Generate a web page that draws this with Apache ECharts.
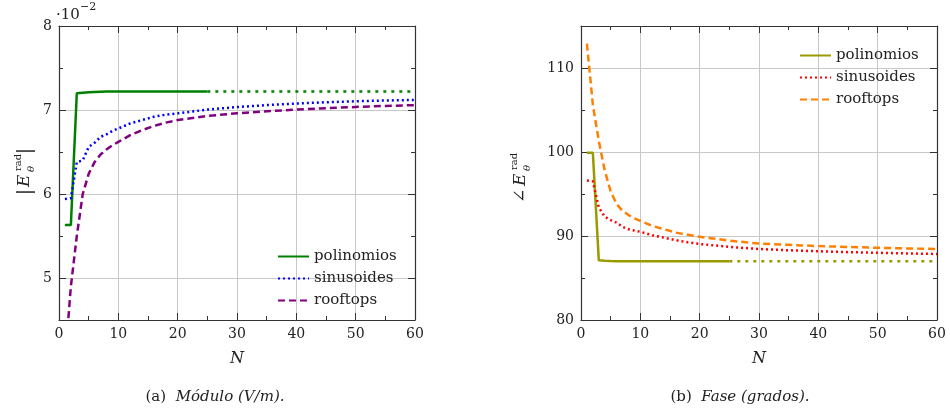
<!DOCTYPE html>
<html>
<head>
<meta charset="utf-8">
<script src="https://cdn.jsdelivr.net/npm/echarts@6/dist/echarts.min.js"></script>
<style>
    html, body { margin: 0; padding: 0; background: #fff; }
    #chart { width: 950px; height: 411px; }
</style>
</head>
<body>
<div id="chart"></div>
<script>
// N values
var nPoly = [1, 2, 3, 4, 5, 6, 8, 10, 15, 20, 25];
var nPolyExt = [25, 60];
var nCurve = [1, 2, 3, 4, 5, 6, 7, 8, 9, 10, 12, 14, 16, 18, 20, 25, 30, 35, 40, 45, 50, 55, 60];

// (a) module, units of 1e-2 V/m
var polyMod = [5.63, 5.63, 7.20, 7.205, 7.21, 7.215, 7.22, 7.22, 7.22, 7.22, 7.22];
var polyModExt = [7.22, 7.22];
var sinMod = [5.94, 5.95, 6.38, 6.40, 6.56, 6.61, 6.68, 6.71, 6.75, 6.78, 6.84, 6.88, 6.92, 6.945, 6.96, 7.005, 7.035, 7.058, 7.077, 7.092, 7.104, 7.113, 7.12];
var roofMod = [4.0, 4.9, 5.5, 6.0, 6.24, 6.38, 6.47, 6.53, 6.58, 6.62, 6.70, 6.76, 6.81, 6.85, 6.88, 6.93, 6.96, 6.985, 7.005, 7.022, 7.036, 7.048, 7.058];

// (b) phase, degrees
var polyPh = [99.9, 99.9, 87.1, 87.05, 87.02, 87.0, 87.0, 87.0, 87.0, 87.0, 87.0];
var polyPhExt = [87.0, 87.0];
var sinPh = [96.6, 96.5, 93.4, 92.3, 91.9, 91.6, 91.1, 90.8, 90.65, 90.5, 90.1, 89.8, 89.5, 89.25, 89.05, 88.7, 88.45, 88.3, 88.18, 88.08, 88.0, 87.92, 87.86];
var roofPh = [112.9, 105.6, 101.3, 97.8, 95.3, 93.8, 93.0, 92.5, 92.1, 91.8, 91.2, 90.8, 90.4, 90.15, 89.9, 89.45, 89.1, 88.95, 88.8, 88.7, 88.6, 88.52, 88.45];

var xTicks = [0, 60, 10];
var yModRange = [4.5, 8];
var yPhRange = [80, 115];

function pairs(xs, ys) {
    var out = [];
    for (var i = 0; i < xs.length; i++) out.push([xs[i], ys[i]]);
    return out;
}

var serif = 'DejaVu Serif';
var axisCol = '#333';
var gridCol = '#c8c8c8';

function xAx(gi, pos, main) {
    return {
        type: 'value', gridIndex: gi, position: pos,
        min: xTicks[0], max: xTicks[1], interval: xTicks[2],
        name: main ? 'N' : '', nameLocation: 'middle', nameGap: 31,
        nameTextStyle: { fontFamily: serif, fontStyle: 'italic', fontSize: 16, color: '#222' },
        axisLine: { show: true, lineStyle: { color: axisCol, width: 1.2 } },
        axisTick: { show: true, inside: true, length: 7, lineStyle: { color: axisCol } },
        minorTick: { show: true, splitNumber: 2, length: 4, lineStyle: { color: axisCol } },
        axisLabel: { show: main, fontFamily: serif, fontSize: 14, color: '#222', margin: 7 },
        splitLine: { show: main, lineStyle: { color: gridCol, width: 1 } }
    };
}

// major y axis: ticks by splitNumber so min need not sit on a tick
function yAxMajor(gi, pos, range, main, showMin, showMax) {
    return {
        type: 'value', gridIndex: gi, position: pos,
        min: range[0], max: range[1], splitNumber: 4,
        axisLine: { show: true, lineStyle: { color: axisCol, width: 1.2 } },
        axisTick: { show: true, inside: true, length: 7, lineStyle: { color: axisCol } },
        axisLabel: { show: main, showMinLabel: showMin, showMaxLabel: showMax,
            fontFamily: serif, fontSize: 14, color: '#222', margin: 7 },
        splitLine: { show: main, lineStyle: { color: gridCol, width: 1 } }
    };
}

// minor y ticks as a second, label-less axis
function yAxMinor(gi, pos, range, step) {
    return {
        type: 'value', gridIndex: gi, position: pos,
        min: range[0], max: range[1], interval: step,
        axisLine: { show: false },
        axisTick: { show: true, inside: true, length: 4, lineStyle: { color: axisCol } },
        axisLabel: { show: false },
        splitLine: { show: false }
    };
}

function line(name, gi, data, color, type, width) {
    return {
        name: name, type: 'line', xAxisIndex: gi * 2, yAxisIndex: gi * 4,
        data: data, showSymbol: false, symbol: 'none', silent: true,
        lineStyle: { color: color, width: width || 2.5, type: type },
        itemStyle: { color: color }
    };
}

var dotted = [2, 3];
var dashed = [7, 4];
var extDot = [3, 5];

var legendBase = {
    orient: 'vertical',
    itemWidth: 31, itemHeight: 14, itemGap: 7,
    itemStyle: { opacity: 0 },
    textStyle: { fontFamily: serif, fontSize: 15, color: '#222' },
    selectedMode: false
};

var chart = echarts.init(document.getElementById('chart'));
chart.setOption({
    animation: false,
    grid: [
        { left: 59, top: 26, width: 356, height: 294 },
        { left: 581, top: 26, width: 356, height: 294 }
    ],
    xAxis: [
        xAx(0, 'bottom', true), xAx(0, 'top', false),
        xAx(1, 'bottom', true), xAx(1, 'top', false)
    ],
    yAxis: [
        yAxMajor(0, 'left', yModRange, true, false, true), yAxMinor(0, 'left', yModRange, 0.5),
        yAxMajor(0, 'right', yModRange, false), yAxMinor(0, 'right', yModRange, 0.5),
        yAxMajor(1, 'left', yPhRange, true, true, false), yAxMinor(1, 'left', yPhRange, 5),
        yAxMajor(1, 'right', yPhRange, false), yAxMinor(1, 'right', yPhRange, 5)
    ],
    legend: [
        Object.assign({}, legendBase, {
            data: ['polinomios', 'sinusoides', 'rooftops'],
            left: 272, top: 244
        }),
        Object.assign({}, legendBase, {
            data: ['polinomios (b)', 'sinusoides (b)', 'rooftops (b)'],
            left: 794, top: 43,
            formatter: function (n) { return n.replace(' (b)', ''); }
        })
    ],
    series: [
        line('polinomios', 0, pairs(nPoly, polyMod), '#008000', 'solid'),
        line('polinomios ext', 0, pairs(nPolyExt, polyModExt), '#008000', extDot),
        line('sinusoides', 0, pairs(nCurve, sinMod), '#0000ff', dotted),
        line('rooftops', 0, pairs(nCurve, roofMod), '#800080', dashed),
        line('polinomios (b)', 1, pairs(nPoly, polyPh), '#999900', 'solid'),
        line('polinomios (b) ext', 1, pairs(nPolyExt, polyPhExt), '#999900', extDot),
        line('sinusoides (b)', 1, pairs(nCurve, sinPh), '#ff0000', dotted),
        line('rooftops (b)', 1, pairs(nCurve, roofPh), '#ff8000', dashed)
    ],
    graphic: [
        // ·10^-2 multiplier
        { type: 'text', left: 56, top: 8, style: { text: '·10', font: '15px "DejaVu Serif"', fill: '#222' } },
        { type: 'text', left: 80, top: 2, style: { text: '−2', font: '11px "DejaVu Serif"', fill: '#222' } },
        // |E_θ^rad|
        {
            type: 'group', x: 25, y: 172, rotation: Math.PI / 2,
            children: [
                { type: 'text', x: -20, y: 0, style: { text: '|', font: '19px "DejaVu Serif"', fill: '#222', align: 'center', verticalAlign: 'middle' } },
                { type: 'text', x: -15, y: 0, style: { text: 'E', font: 'italic 17px "DejaVu Serif"', fill: '#222', align: 'left', verticalAlign: 'middle' } },
                { type: 'text', x: 1, y: -7, style: { text: 'rad', font: '10px "DejaVu Serif"', fill: '#222', align: 'left', verticalAlign: 'middle' } },
                { type: 'text', x: 0, y: 6, style: { text: 'θ', font: 'italic 10px "DejaVu Serif"', fill: '#222', align: 'left', verticalAlign: 'middle' } },
                { type: 'text', x: 21, y: 0, style: { text: '|', font: '19px "DejaVu Serif"', fill: '#222', align: 'center', verticalAlign: 'middle' } }
            ]
        },
        // ∠E_θ^rad
        {
            type: 'group', x: 521, y: 176, rotation: Math.PI / 2,
            children: [
                { type: 'text', x: -27, y: 0, style: { text: '∠', font: '17px "DejaVu Serif"', fill: '#222', align: 'left', verticalAlign: 'middle' } },
                { type: 'text', x: -10, y: 0, style: { text: 'E', font: 'italic 17px "DejaVu Serif"', fill: '#222', align: 'left', verticalAlign: 'middle' } },
                { type: 'text', x: 6, y: -7, style: { text: 'rad', font: '10px "DejaVu Serif"', fill: '#222', align: 'left', verticalAlign: 'middle' } },
                { type: 'text', x: 5, y: 6, style: { text: 'θ', font: 'italic 10px "DejaVu Serif"', fill: '#222', align: 'left', verticalAlign: 'middle' } }
            ]
        },
        // captions
        {
            type: 'text', x: 215, y: 397,
            style: {
                text: '{n|(a)}  {i|Módulo (V/m).}', align: 'center', verticalAlign: 'middle',
                rich: {
                    n: { fontFamily: serif, fontSize: 15, fill: '#222' },
                    i: { fontFamily: serif, fontSize: 15, fontStyle: 'italic', fill: '#222' }
                },
                font: '15px "DejaVu Serif"', fill: '#222'
            }
        },
        {
            type: 'text', x: 740, y: 397,
            style: {
                text: '{n|(b)}  {i|Fase (grados).}', align: 'center', verticalAlign: 'middle',
                rich: {
                    n: { fontFamily: serif, fontSize: 15, fill: '#222' },
                    i: { fontFamily: serif, fontSize: 15, fontStyle: 'italic', fill: '#222' }
                },
                font: '15px "DejaVu Serif"', fill: '#222'
            }
        }
    ]
});
</script>
</body>
</html>
